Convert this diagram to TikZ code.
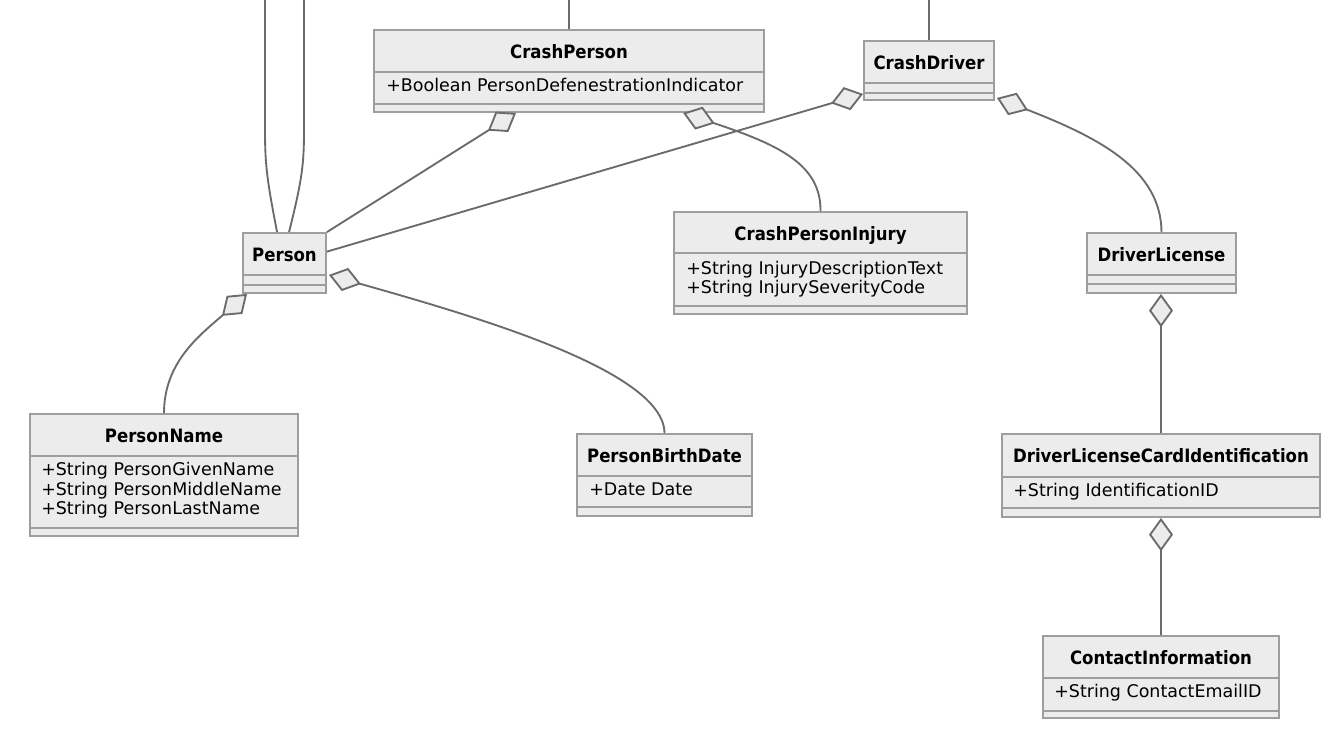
\documentclass[tikz,border=0pt]{standalone}
\usepackage{fontspec}
\setmainfont{DejaVu Sans}
\newfontfamily\titlefont{DejaVu Sans Condensed}
\usetikzlibrary{arrows.meta,fit,calc}
\definecolor{boxfill}{HTML}{ECECEC}
\definecolor{boxdraw}{HTML}{9E9E9E}
\definecolor{edgedraw}{HTML}{6B6B6B}
\tikzset{
  classbox/.style={draw=boxdraw,fill=boxfill,line width=1.4pt,inner sep=0pt},
  divider/.style={draw=boxdraw,line width=1.4pt},
  classname/.style={font=\titlefont\bfseries\fontsize{13.8}{16}\selectfont,text height=10.1pt,text depth=0pt,inner sep=0pt},
  attr/.style={font=\fontsize{13.1}{15}\selectfont,anchor=west,text height=9.6pt,text depth=0pt,inner sep=0pt},
  edge/.style={draw=edgedraw,line width=1.4pt},
  agg/.style={edge,-{Diamond[length=25pt,width=18pt,fill=boxfill]}},
}
\begin{document}
\begin{tikzpicture}[x=0.75pt,y=-0.75pt]
\useasboundingbox (0,0) rectangle (1328,741);
% CrashPerson
\node[classbox,fit={(374,30) (764,112)}] (crashperson) {};
\draw[divider] (374,72) -- (764,72) (374,104) -- (764,104);
\node[classname] (crashperson-t) at (569,52) {CrashPerson};
\node[attr] (crashperson-a1) at (386,85) {+Boolean PersonDefenestrationIndicator};
% CrashDriver
\node[classbox,fit={(864,41) (994,100)}] (crashdriver) {};
\draw[divider] (864,83) -- (994,83) (864,93) -- (994,93);
\node[classname] (crashdriver-t) at (929,63) {CrashDriver};
% Person
\node[classbox,fit={(243,233) (326,293)}] (person) {};
\draw[divider] (243,275) -- (326,275) (243,285) -- (326,285);
\node[classname] (person-t) at (284.5,255) {Person};
% CrashPersonInjury
\node[classbox,fit={(674,212) (967,314)}] (crashpersoninjury) {};
\draw[divider] (674,253) -- (967,253) (674,306) -- (967,306);
\node[classname] (crashpersoninjury-t) at (820.5,234) {CrashPersonInjury};
\node[attr] (crashpersoninjury-a1) at (686,268) {+String InjuryDescriptionText};
\node[attr] (crashpersoninjury-a2) at (686,287) {+String InjurySeverityCode};
% DriverLicense
\node[classbox,fit={(1087,233) (1236,293)}] (driverlicense) {};
\draw[divider] (1087,275) -- (1236,275) (1087,284) -- (1236,284);
\node[classname] (driverlicense-t) at (1161.5,255) {DriverLicense};
% PersonName
\node[classbox,fit={(30,414) (298,536)}] (personname) {};
\draw[divider] (30,456) -- (298,456) (30,528) -- (298,528);
\node[classname] (personname-t) at (164,436) {PersonName};
\node[attr] (personname-a1) at (41,469) {+String PersonGivenName};
\node[attr] (personname-a2) at (41,489) {+String PersonMiddleName};
\node[attr] (personname-a3) at (41,508) {+String PersonLastName};
% PersonBirthDate
\node[classbox,fit={(577,434) (752,516)}] (personbirthdate) {};
\draw[divider] (577,476) -- (752,476) (577,507) -- (752,507);
\node[classname] (personbirthdate-t) at (664.5,456) {PersonBirthDate};
\node[attr] (personbirthdate-a1) at (589,489) {+Date Date};
% DriverLicenseCardIdentification
\node[classbox,fit={(1002,434) (1320,517)}] (dlci) {};
\draw[divider] (1002,477) -- (1320,477) (1002,508) -- (1320,508);
\node[classname] (dlci-t) at (1161,456) {DriverLicenseCardIdentification};
\node[attr] (dlci-a1) at (1013,490) {+String IdentificationID};
% ContactInformation
\node[classbox,fit={(1043,636) (1279,718)}] (contactinfo) {};
\draw[divider] (1043,678) -- (1279,678) (1043,711) -- (1279,711);
\node[classname] (contactinfo-t) at (1161,658) {ContactInformation};
\node[attr] (contactinfo-a1) at (1054,691) {+String ContactEmailID};
% aggregations
\draw[agg] (person.north east) -- ($(crashperson.south west)+(143,0)$);
\draw[agg] (crashpersoninjury.north) .. controls (821,165) and (780,145) .. ($(crashperson.south west)+(310,0)$);
\draw[agg] (person.15) -- ($(crashdriver.south west)+(0,-7)$);
\draw[agg] (driverlicense.north) .. controls (1161,170) and (1100,138) .. ($(crashdriver.south east)+(2,-3)$);
\draw[agg] (personname.north) .. controls (164,362) and (200,335) .. ($(person.south west)+(5,0)$);
\draw[agg] (personbirthdate.north) .. controls (664,370) and (470,315) .. ($(person.south east)+(2,-19)$);
\draw[agg] (dlci.north) -- (dlci.north |- driverlicense.south);
\draw[agg] (contactinfo.north) -- (dlci.south);
% links leaving the picture
\coordinate (up-crashperson) at (569,0);
\coordinate (up-crashdriver) at (929,0);
\coordinate (up-person-a) at (265,0);
\coordinate (up-person-b) at (304,0);
\draw[edge] (crashperson.north) -- (up-crashperson);
\draw[edge] (crashdriver.north) -- (up-crashdriver);
\draw[edge] ($(person.north west)+(35,0)$) .. controls (267,180) and (265,165) .. (265,130) -- (up-person-a);
\draw[edge] ($(person.north west)+(47,0)$) .. controls (302,180) and (304,165) .. (304,130) -- (up-person-b);
\end{tikzpicture}
\end{document}
